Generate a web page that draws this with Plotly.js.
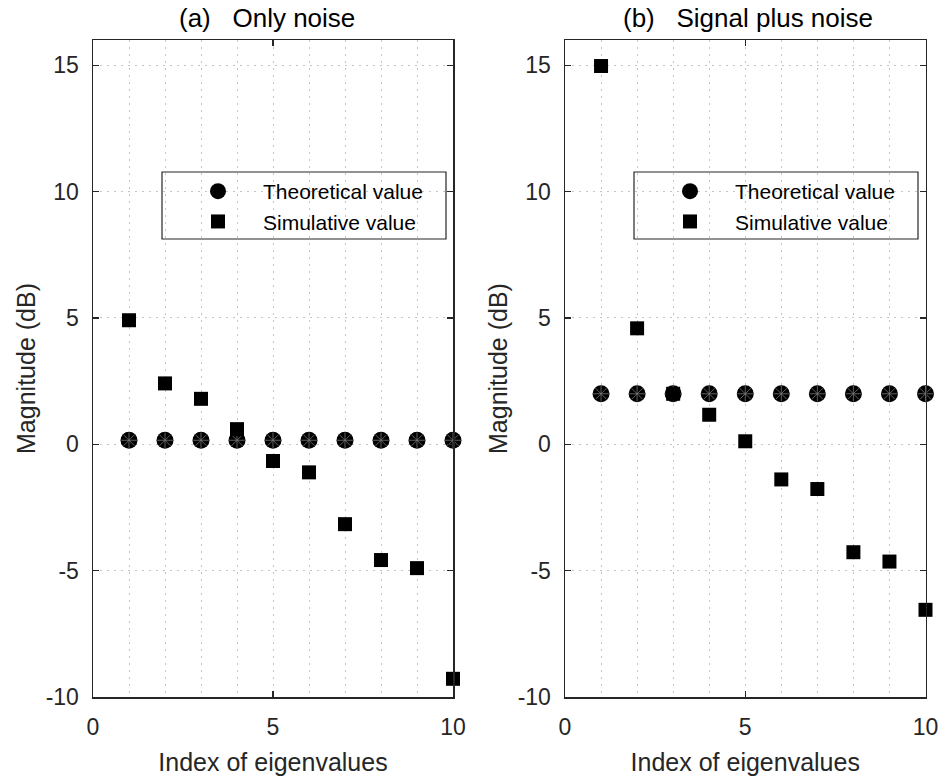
<!DOCTYPE html>
<html>
<head>
<meta charset="utf-8">
<script src="https://cdn.plot.ly/plotly-3.0.1.min.js"></script>
<style>html,body{margin:0;padding:0;background:#fff;}#chart{width:940px;height:779px;}</style>
</head>
<body>
<div id="chart"></div>
<script>
// ---- data ----
const indexValues = [1, 2, 3, 4, 5, 6, 7, 8, 9, 10];
const theoreticalA = [0.16, 0.16, 0.16, 0.16, 0.16, 0.16, 0.16, 0.16, 0.16, 0.16];
const simulativeA = [4.91, 2.41, 1.80, 0.60, -0.66, -1.11, -3.16, -4.58, -4.90, -9.28];
const theoreticalB = [2.0, 2.0, 2.0, 2.0, 2.0, 2.0, 2.0, 2.0, 2.0, 2.0];
const simulativeB = [14.97, 4.59, 2.0, 1.17, 0.12, -1.39, -1.77, -4.27, -4.64, -6.55];
const panelTitles = ['(a)\u00a0\u00a0\u00a0Only noise', '(b)\u00a0\u00a0\u00a0Signal plus noise'];
const seriesNames = ['Theoretical value', 'Simulative value'];
const xTickVals = [0, 5, 10];
const yTickVals = [-10, -5, 0, 5, 10, 15];

const FONT = 'Liberation Sans, Arial, Helvetica, sans-serif';
const AX = '#262626';
const GRID = '#c4c4c4';
const GDASH = '1.5px,5.5px';

function panel(xa, ya, theo, sim, legendId) {
  return [
    {x: indexValues, y: theo, xaxis: xa, yaxis: ya, mode: 'markers', type: 'scatter',
     name: seriesNames[0], legend: legendId, cliponaxis: false,
     marker: {symbol: 'circle', size: 17, color: '#000', line: {width: 0}}},
    {x: indexValues, y: theo, xaxis: xa, yaxis: ya, mode: 'markers', type: 'scatter',
     showlegend: false, cliponaxis: false, hoverinfo: 'skip',
     marker: {symbol: 'asterisk-open', size: 13, color: '#777', line: {width: 0.8, color: '#777'}}},
    {x: indexValues, y: sim, xaxis: xa, yaxis: ya, mode: 'markers', type: 'scatter',
     name: seriesNames[1], legend: legendId, cliponaxis: false,
     marker: {symbol: 'square', size: 14, color: '#000', line: {width: 0}}}
  ];
}

const data = [].concat(
  panel('x', 'y', theoreticalA, simulativeA, 'legend'),
  panel('x2', 'y2', theoreticalB, simulativeB, 'legend2')
);

function xAxis(domain, anchor) {
  return {
    domain: domain, anchor: anchor, range: [0, 10],
    tickmode: 'array', tickvals: xTickVals, ticktext: xTickVals.map(String),
    ticks: 'inside', ticklen: 6, tickwidth: 1.2, tickcolor: AX,
    showline: true, linecolor: AX, linewidth: 1.5, mirror: 'ticks',
    showgrid: true, gridcolor: GRID, griddash: GDASH, gridwidth: 1,
    minor: {dtick: 1, tick0: 0, showgrid: true, gridcolor: GRID, griddash: GDASH, gridwidth: 1, ticks: ''},
    zeroline: false, ticklabelstandoff: 9,
    tickfont: {family: FONT, size: 23, color: '#262626'},
    title: {text: 'Index of eigenvalues', standoff: 14, font: {family: FONT, size: 25, color: '#262626'}}
  };
}
function yAxis(anchor) {
  return {
    domain: [1 - 697 / 779, 1 - 40 / 779], anchor: anchor, range: [-10, 16],
    tickmode: 'array', tickvals: yTickVals, ticktext: yTickVals.map(String),
    ticks: 'inside', ticklen: 6, tickwidth: 1.2, tickcolor: AX,
    showline: true, linecolor: AX, linewidth: 1.5, mirror: 'ticks',
    showgrid: true, gridcolor: GRID, griddash: GDASH, gridwidth: 1,
    zeroline: false, ticklabelstandoff: 8,
    tickfont: {family: FONT, size: 23, color: '#262626'},
    title: {text: 'Magnitude (dB)', standoff: 3, font: {family: FONT, size: 25, color: '#262626'}}
  };
}

const legendBase = {
  bgcolor: 'rgba(0,0,0,0)', borderwidth: 0,
  font: {family: FONT, size: 21, color: '#000'},
  xref: 'paper', yref: 'paper', xanchor: 'left', yanchor: 'top',
  itemwidth: 80, tracegroupgap: 0, itemclick: false
};

const layout = {
  width: 940, height: 779,
  margin: {l: 0, r: 0, t: 0, b: 0},
  paper_bgcolor: '#fff', plot_bgcolor: '#fff',
  showlegend: true,
  xaxis: xAxis([93 / 940, 453 / 940], 'y'),
  yaxis: yAxis('x'),
  xaxis2: xAxis([565 / 940, 925.5 / 940], 'y2'),
  yaxis2: yAxis('x2'),
  legend: Object.assign({}, legendBase, {x: 173 / 940, y: 1 - 171 / 779}),
  legend2: Object.assign({}, legendBase, {x: 645 / 940, y: 1 - 171 / 779}),
  shapes: [
    {type: 'rect', xref: 'paper', yref: 'paper', x0: 162 / 940, x1: 446 / 940,
     y0: 1 - 239 / 779, y1: 1 - 172 / 779, line: {color: AX, width: 1.2}, fillcolor: '#fff', layer: 'below'},
    {type: 'rect', xref: 'paper', yref: 'paper', x0: 634 / 940, x1: 918 / 940,
     y0: 1 - 239 / 779, y1: 1 - 172 / 779, line: {color: AX, width: 1.2}, fillcolor: '#fff', layer: 'below'}
  ],
  annotations: [
    {text: panelTitles[0], xref: 'paper', yref: 'paper', x: 267 / 940, y: 1 - 18 / 779,
     showarrow: false, xanchor: 'center', yanchor: 'middle', font: {family: FONT, size: 26, color: '#000'}},
    {text: panelTitles[1], xref: 'paper', yref: 'paper', x: 748 / 940, y: 1 - 18 / 779,
     showarrow: false, xanchor: 'center', yanchor: 'middle', font: {family: FONT, size: 26, color: '#000'}}
  ]
};

Plotly.newPlot('chart', data, layout, {staticPlot: true});
</script>
</body>
</html>
